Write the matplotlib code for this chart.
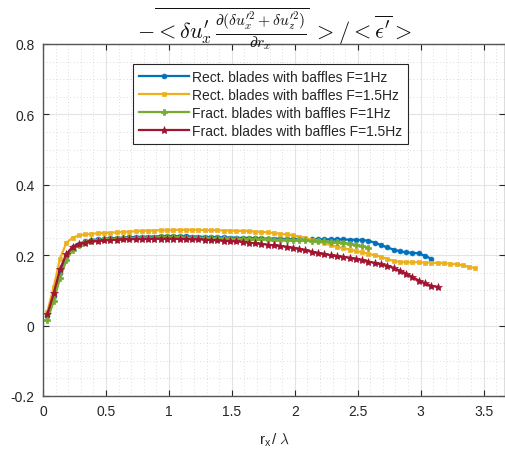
import numpy as np
import matplotlib
matplotlib.use('Agg')
import matplotlib.pyplot as plt
from matplotlib.ticker import MultipleLocator

plt.rcParams['font.family'] = ['Liberation Sans', 'DejaVu Sans']
plt.rcParams['mathtext.fontset'] = 'cm'

# sampling of the curves (r_x / lambda)
x0 = 0.035
dx = 0.05

rect_1hz = [0.028, 0.085, 0.150, 0.197, 0.222, 0.233, 0.239, 0.243, 0.245, 0.247,
            0.248, 0.249, 0.250, 0.251, 0.252, 0.252, 0.253, 0.253, 0.254, 0.254,
            0.254, 0.254, 0.254, 0.253, 0.253, 0.252, 0.252, 0.251, 0.251, 0.250,
            0.250, 0.249, 0.249, 0.248, 0.248, 0.247, 0.247, 0.247, 0.246, 0.246,
            0.246, 0.246, 0.245, 0.245, 0.245, 0.245, 0.245, 0.245, 0.244, 0.244,
            0.243, 0.241, 0.236, 0.229, 0.222, 0.216, 0.211, 0.208, 0.207, 0.205,
            0.198, 0.190]
rect_15hz = [0.040, 0.110, 0.190, 0.235, 0.250, 0.256, 0.259, 0.261, 0.262, 0.263,
             0.264, 0.265, 0.266, 0.267, 0.268, 0.269, 0.270, 0.270, 0.271, 0.271,
             0.272, 0.272, 0.272, 0.272, 0.272, 0.271, 0.271, 0.271, 0.270, 0.270,
             0.269, 0.269, 0.268, 0.267, 0.266, 0.265, 0.263, 0.261, 0.259, 0.256,
             0.253, 0.249, 0.244, 0.239, 0.234, 0.229, 0.224, 0.220, 0.216, 0.212,
             0.208, 0.204, 0.200, 0.196, 0.189, 0.184, 0.181, 0.180, 0.180, 0.180,
             0.179, 0.179, 0.178, 0.177, 0.176, 0.174, 0.171, 0.167, 0.163]
fract_1hz = [0.015, 0.070, 0.135, 0.185, 0.215, 0.230, 0.237, 0.241, 0.243, 0.245,
             0.246, 0.247, 0.248, 0.249, 0.249, 0.250, 0.250, 0.250, 0.251, 0.251,
             0.251, 0.251, 0.250, 0.250, 0.250, 0.249, 0.249, 0.248, 0.248, 0.247,
             0.247, 0.246, 0.246, 0.245, 0.245, 0.245, 0.244, 0.244, 0.244, 0.244,
             0.243, 0.242, 0.241, 0.240, 0.239, 0.238, 0.237, 0.235, 0.233, 0.230,
             0.226, 0.221]
fract_15hz = [0.032, 0.092, 0.160, 0.203, 0.224, 0.232, 0.236, 0.239, 0.240, 0.242,
              0.243, 0.244, 0.245, 0.245, 0.246, 0.246, 0.246, 0.247, 0.247, 0.247,
              0.247, 0.246, 0.246, 0.245, 0.245, 0.244, 0.243, 0.242, 0.241, 0.240,
              0.239, 0.238, 0.236, 0.234, 0.232, 0.230, 0.228, 0.226, 0.224, 0.221,
              0.218, 0.214, 0.210, 0.206, 0.203, 0.200, 0.197, 0.195, 0.193, 0.190,
              0.186, 0.182, 0.178, 0.174, 0.170, 0.164, 0.156, 0.148, 0.138, 0.128,
              0.120, 0.113, 0.110]

labels = ['Rect. blades with baffles F=1Hz', 'Rect. blades with baffles F=1.5Hz',
          'Fract. blades with baffles F=1Hz', 'Fract. blades with baffles F=1.5Hz']

fig = plt.figure(figsize=(5.05, 4.52), dpi=100)
ax = fig.add_axes([43/505, 55/452, 462/505, 352/452])

series = [rect_1hz, rect_15hz, fract_1hz, fract_15hz]
styles = [('#0072BD', 'o', 3.5), ('#EDB120', 's', 3.2),
          ('#77AC30', 'P', 4.5), ('#A2142F', '*', 6.0)]
for y, lab, (c, m, ms) in zip(series, labels, styles):
    x = x0 + dx * np.arange(len(y))
    ax.plot(x, y, color=c, marker=m, ms=ms, lw=1.6, mew=0.5, label=lab)

ax.set_xlim(0, 3.67)
ax.set_ylim(-0.2, 0.8)
ax.xaxis.set_major_locator(MultipleLocator(0.5))
ax.xaxis.set_minor_locator(MultipleLocator(0.1))
ax.yaxis.set_major_locator(MultipleLocator(0.2))
ax.yaxis.set_minor_locator(MultipleLocator(0.05))
fmt = plt.FuncFormatter(lambda v, p: '%g' % round(v, 2))
ax.xaxis.set_major_formatter(fmt)
ax.yaxis.set_major_formatter(fmt)

ax.grid(which='major', color='#e3e3e3', lw=0.8, ls='-')
ax.grid(which='minor', color='#d2d2d2', lw=0.6, ls=(0, (1, 3)))
ax.set_axisbelow(True)

ax.tick_params(which='major', direction='in', length=4, width=0.8, color='#262626',
               top=True, right=True, labelsize=10, labelcolor='#262626', pad=6)
ax.tick_params(which='minor', length=0)
for s in ax.spines.values():
    s.set_color('#555555')
    s.set_linewidth(1.0)

ax.set_title(r'$-\overline{<\delta u^{\prime}_x\,\frac{\partial(\delta u^{\prime 2}_x+\delta u^{\prime 2}_z)}{\partial r_x}}\;>/<\overline{\epsilon^{\prime}}>$',
             fontsize=16, pad=5, color='#111111')
ax.set_xlabel(r'r$_\mathregular{x}$/ $\lambda$', fontsize=11, color='#262626', labelpad=9)

leg = ax.legend(loc='upper left', bbox_to_anchor=(0.195, 0.943), fontsize=10,
                handlelength=3.6, handletextpad=0.25, borderpad=0.4, labelspacing=0.3,
                fancybox=False, framealpha=1, edgecolor='#262626', borderaxespad=0)
leg.get_frame().set_linewidth(0.8)
for t in leg.get_texts():
    t.set_color('#262626')

plt.savefig('out.png', dpi=100)
